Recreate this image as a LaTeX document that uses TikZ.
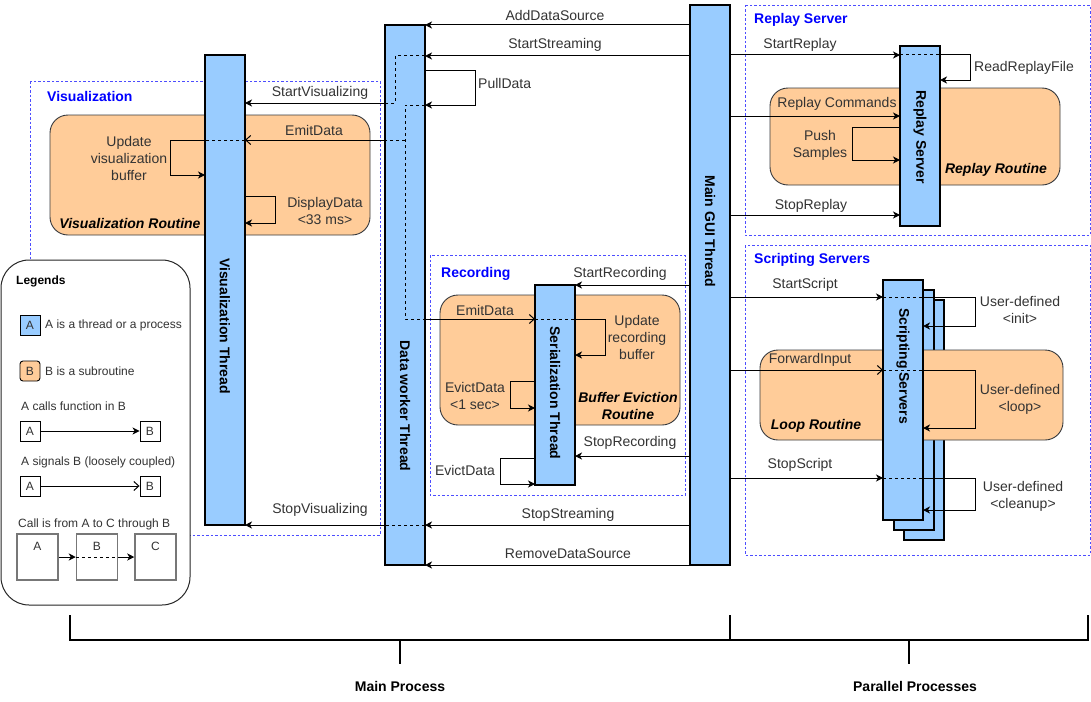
\documentclass[tikz,border=0pt]{standalone}
\usepackage{fontspec}
\setmainfont{Liberation Sans}
\usetikzlibrary{arrows.meta}
\definecolor{threadblue}{HTML}{99CCFF}
\definecolor{routinefill}{HTML}{FFCC99}
\definecolor{routinedraw}{HTML}{36393D}
\definecolor{grpblue}{HTML}{4D4DFF}
\definecolor{titleblue}{HTML}{0000FF}
\definecolor{msgtext}{HTML}{333333}
\definecolor{legbox}{HTML}{777777}
\begin{document}
\begin{tikzpicture}[x=1pt,y=-1pt,
  thread/.style={draw=black,line width=1.2pt,fill=threadblue,inner sep=0pt,outer sep=0pt,anchor=north west,minimum width=40pt},
  threadtext/.style={rotate=-90,font=\fontsize{14}{17}\selectfont\bfseries,inner sep=0pt},
  routine/.style={draw=routinedraw,line width=0.9pt,fill=routinefill,rounded corners=18pt},
  grp/.style={draw=grpblue,line width=0.8pt,dash pattern=on 2.5pt off 2pt},
  grptitle/.style={anchor=west,text=titleblue,font=\fontsize{14}{17}\selectfont\bfseries,inner sep=0pt},
  msg/.style={text=msgtext,font=\fontsize{14}{17}\selectfont,inner sep=0pt,align=center},
  rtitle/.style={text=black,font=\fontsize{14}{17}\selectfont\bfseries\itshape,inner sep=0pt,align=center},
  call/.style={draw=black,line width=1pt,-{Stealth[length=7pt,width=7pt,inset=2pt]}},
  sig/.style={draw=black,line width=1pt,-{Straight Barb[length=5pt,width=9pt]}},
  thru/.style={draw=black,line width=1pt,dash pattern=on 3pt off 3pt},
  seg/.style={draw=black,line width=1pt},
  legtext/.style={text=msgtext,font=\fontsize{12}{14}\selectfont,inner sep=0pt,anchor=west},
  legsq/.style={draw=black,line width=0.9pt,minimum size=20pt,inner sep=0pt,font=\fontsize{12}{14}\selectfont,text=msgtext},
  legbig/.style={draw=legbox,line width=1.5pt,minimum width=41pt,minimum height=46pt,inner sep=0pt},
  bracepath/.style={draw=black,line width=1.5pt},
  ptitle/.style={font=\fontsize{14}{17}\selectfont\bfseries,inner sep=0pt}
]
\useasboundingbox (0,0) rectangle (1091,701);

% group boxes
\draw[grp] (30,81) rectangle (380,535);
\draw[grp] (430,255) rectangle (685,495);
\draw[grp] (745,5) rectangle (1090,235);
\draw[grp] (745,245) rectangle (1090,555);

% back scripting server threads
\node[thread,minimum height=240pt] (ss3) at (904,300) {};
\node[thread,minimum height=240pt] (ss2) at (894,290) {};

% routines
\draw[routine] (50,115) rectangle (370,235);
\draw[routine] (440,295) rectangle (680,425);
\draw[routine] (770,88) rectangle (1060,185);
\draw[routine] (760,350) rectangle (1063,440);

% legend
\draw[fill=white,draw=black!85,line width=1pt,rounded corners=28pt] (1,260) rectangle (190,605);
\node[text=black,font=\fontsize{12}{14}\selectfont\bfseries,inner sep=0pt,anchor=west] (lgt) at (16,281) {Legends};
\node[legsq,fill=threadblue] (lga) at (30,325) {A};
\node[legtext] (lgat) at (45,325) {A is a thread or a process};
\node[legsq,fill=routinefill,rounded corners=3pt] (lgb) at (30,371) {B};
\node[legtext] (lgbt) at (45,371) {B is a subroutine};
\node[legtext] (lgc) at (21,406) {A calls function in B};
\node[legsq] (lgca) at (30,431) {A};
\node[legsq] (lgcb) at (150,431) {B};
\draw[call] (lgca) -- (lgcb);
\node[legtext] (lgs) at (21,462) {A signals B (loosely coupled)};
\node[legsq] (lgsa) at (30,486) {A};
\node[legsq] (lgsb) at (150,486) {B};
\draw[sig] (lgsa) -- (lgsb);
\node[legtext] (lgt3) at (18,524) {Call is from A to C through B};
\node[legbig] (cba) at (37.5,557) {};
\node[legbig] (cbb) at (97,557) {};
\node[legbig] (cbc) at (155.5,557) {};
\node[legtext,anchor=center] (cbat) at (37.5,546) {A};
\node[legtext,anchor=center] (cbbt) at (97,546) {B};
\node[legtext,anchor=center] (cbct) at (155.5,546) {C};
\draw[call] (cba.east) -- (cbb.west);
\draw[thru] (cbb.west) -- (cbb.east);
\draw[call] (cbb.east) -- (cbc.west);

% threads
\node[thread,minimum height=470pt] (vt) at (205,55) {};
\node[thread,minimum height=540pt] (dw) at (385,25) {};
\node[thread,minimum height=560pt] (gui) at (690,5) {};
\node[thread,minimum height=200pt] (st) at (535,285) {};
\node[thread,minimum height=180pt] (rs) at (900,46) {};
\node[thread,minimum height=240pt] (ss1) at (883,280) {};

% ---- connectors: main GUI <-> data worker
\draw[call] (gui.west |- 0,25) -- (dw.east |- 0,25);
\draw[call] (gui.west |- 0,56) -- (dw.east |- 0,56);
\draw[thru] (dw.east |- 0,56) -- (395,56) -- (395,103) -- (dw.west |- 0,103);
\draw[call] (dw.west |- 0,103) -- (vt.east |- 0,103);
\draw[call] (dw.east |- 0,70) -- (475,70) -- (475,105) -- (dw.east |- 0,105);
\draw[thru] (dw.east |- 0,105) -- (405,105) -- (405,319) -- (dw.east |- 0,319);
\draw[thru] (405,140) -- (dw.west |- 0,140);
\draw[sig] (dw.west |- 0,140) -- (vt.east |- 0,140);
\draw[thru] (vt.east |- 0,140) -- (vt.west |- 0,140);
\draw[call] (vt.west |- 0,140) -- (170,140) -- (170,175) -- (vt.west |- 0,175);
\draw[call] (vt.east |- 0,196) -- (275,196) -- (275,223) -- (vt.east |- 0,223);
\draw[call] (gui.west |- 0,525) -- (dw.east |- 0,525);
\draw[thru] (dw.east |- 0,525) -- (dw.west |- 0,525);
\draw[call] (dw.west |- 0,525) -- (vt.east |- 0,525);
\draw[call] (gui.west |- 0,565) -- (dw.east |- 0,565);

% ---- recording
\draw[call] (gui.west |- 0,285) -- (st.east |- 0,285);
\draw[sig] (dw.east |- 0,319) -- (st.west |- 0,319);
\draw[thru] (st.west |- 0,319) -- (st.east |- 0,319);
\draw[call] (st.east |- 0,319) -- (605,319) -- (605,355) -- (st.east |- 0,355);
\draw[call] (st.west |- 0,381) -- (510,381) -- (510,408) -- (st.west |- 0,408);
\draw[call] (gui.west |- 0,456) -- (st.east |- 0,456);
\draw[call] (st.west |- 0,458) -- (500,458) -- (500,484) -- (st.west |- 0,484);

% ---- replay
\draw[call] (gui.east |- 0,55) -- (rs.west |- 0,55);
\draw[thru] (rs.west |- 0,55) -- (rs.east |- 0,55);
\draw[call] (rs.east |- 0,55) -- (970,55) -- (970,80) -- (rs.east |- 0,80);
\draw[call] (gui.east |- 0,116) -- (rs.west |- 0,116);
\draw[call] (rs.west |- 0,127) -- (852,127) -- (852,160) -- (rs.west |- 0,160);
\draw[call] (gui.east |- 0,215) -- (rs.west |- 0,215);

% ---- scripting
\draw[call] (gui.east |- 0,297) -- (ss1.west |- 0,297);
\draw[thru] (ss1.west |- 0,297) -- (ss1.east |- 0,297);
\draw[call] (ss1.east |- 0,297) -- (975,297) -- (975,326) -- (ss1.east |- 0,326);
\draw[sig] (gui.east |- 0,370) -- (ss1.west |- 0,370);
\draw[thru] (ss1.west |- 0,370) -- (ss1.east |- 0,370);
\draw[call] (ss1.east |- 0,370) -- (975,370) -- (975,428) -- (ss1.east |- 0,428);
\draw[call] (gui.east |- 0,478) -- (ss1.west |- 0,478);
\draw[thru] (ss1.west |- 0,478) -- (ss1.east |- 0,478);
\draw[call] (ss1.east |- 0,478) -- (975,478) -- (975,510) -- (ss1.east |- 0,510);

% ---- thread labels
\node[threadtext] (vtl) at (225,326) {Visualization Thread};
\node[threadtext] (dwl) at (405,406) {Data worker Thread};
\node[threadtext] (guil) at (710,231) {Main GUI Thread};
\node[threadtext] (stl) at (555,393) {Serialization Thread};
\node[threadtext] (rsl) at (920,137) {Replay Server};
\node[threadtext] (ssl) at (903,366) {Scripting Servers};

% ---- group titles
\node[grptitle] (gt1) at (47,96) {Visualization};
\node[grptitle] (gt2) at (441,274) {Recording};
\node[grptitle] (gt3) at (754,20) {Replay Server};
\node[grptitle] (gt4) at (754,260) {Scripting Servers};

% ---- routine titles
\node[rtitle] (rt1) at (130,223) {Visualization Routine};
\node[rtitle] (rt2) at (628,406) {Buffer Eviction\\Routine};
\node[rtitle] (rt3) at (996,170) {Replay Routine};
\node[rtitle] (rt4) at (816,426) {Loop Routine};

% ---- message labels
\node[msg] (m1) at (555,15) {AddDataSource};
\node[msg] (m2) at (555,45) {StartStreaming};
\node[msg,anchor=west] (m3) at (478,83) {PullData};
\node[msg] (m4) at (320,93) {StartVisualizing};
\node[msg] (m5) at (314,130) {EmitData};
\node[msg] (m6) at (129,158) {Update\\visualization\\buffer};
\node[msg] (m7) at (325,210.5) {DisplayData\\<33 ms>};
\node[msg] (m8) at (320,510) {StopVisualizing};
\node[msg] (m9) at (568,515) {StopStreaming};
\node[msg] (m10) at (568,554) {RemoveDataSource};
\node[msg] (m11) at (620,274) {StartRecording};
\node[msg] (m12) at (485,310) {EmitData};
\node[msg] (m13) at (637,337) {Update\\recording\\buffer};
\node[msg] (m14) at (475,396) {EvictData\\<1 sec>};
\node[msg] (m15) at (630,443) {StopRecording};
\node[msg] (m16) at (465,470) {EvictData};
\node[msg] (m17) at (800,45) {StartReplay};
\node[msg,anchor=west] (m18) at (974,68) {ReadReplayFile};
\node[msg] (m19) at (837,104) {Replay Commands};
\node[msg] (m20) at (820,145.5) {Push\\Samples};
\node[msg] (m21) at (811,206) {StopReplay};
\node[msg] (m22) at (805,285) {StartScript};
\node[msg] (m23) at (1020,310) {User-defined\\<init>};
\node[msg] (m24) at (810,360) {ForwardInput};
\node[msg] (m25) at (1020,399) {User-defined\\<loop>};
\node[msg] (m26) at (800,465) {StopScript};
\node[msg] (m27) at (1023,496) {User-defined\\<cleanup>};

% ---- process braces
\draw[bracepath] (70,615) -- (70,640) -- (730,640) -- (730,615);
\draw[bracepath] (400,640) -- (400,664);
\draw[bracepath] (730,640) -- (1088,640) -- (1088,615);
\draw[bracepath] (909,640) -- (909,664);
\node[ptitle] (p1) at (400,686) {Main Process};
\node[ptitle] (p2) at (915,686) {Parallel Processes};
\end{tikzpicture}
\end{document}
